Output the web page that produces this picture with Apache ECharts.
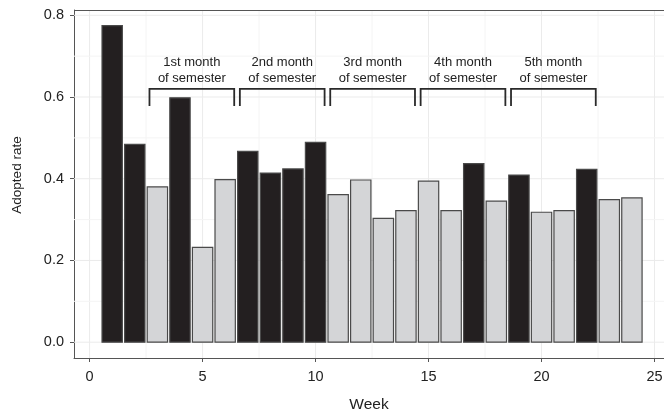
<!DOCTYPE html>
<html>
<head>
<meta charset="utf-8">
<script src="https://cdn.jsdelivr.net/npm/echarts@6/dist/echarts.min.js"></script>
<style>html,body{margin:0;padding:0;background:#fff}#c{width:664px;height:410px}</style>
</head>
<body>
<div id="c"></div>
<script>
const weeks = [1,2,3,4,5,6,7,8,9,10,11,12,13,14,15,16,17,18,19,20,21,22,23,24];
const adoptedRate = [0.775,0.484,0.380,0.598,0.232,0.398,0.467,0.414,0.424,0.489,0.361,0.397,0.303,0.322,0.394,0.322,0.437,0.345,0.409,0.318,0.322,0.423,0.349,0.353];
const barGroup = ['dark','dark','light','dark','light','light','dark','dark','dark','dark','light','light','light','light','light','light','dark','light','dark','light','light','dark','light','light'];
const monthLabels = ['1st month','2nd month','3rd month','4th month','5th month'];
const monthStart = [2.65,6.65,10.65,14.65,18.65];
const monthEnd = [6.4,10.4,14.4,18.4,22.4];
const xTicks = [0,5,10,15,20,25];
const yTicks = [0,0.2,0.4,0.6,0.8];
const xGrid = [0,2.5,5,7.5,10,12.5,15,17.5,20,22.5,25];
const yGrid = [0,0.1,0.2,0.3,0.4,0.5,0.6,0.7,0.8];

const FONT = '"Liberation Sans", Arial, sans-serif';
const colors = {dark:'#231f20', light:'#d4d5d7'};

const barData = weeks.map((w,i)=>[w, adoptedRate[i], barGroup[i]]);
const bracketData = monthLabels.map((m,i)=>[monthStart[i], monthEnd[i], m]);

const chart = echarts.init(document.getElementById('c'));
chart.setOption({
  animation:false,
  backgroundColor:'#fff',
  grid:{left:74,right:0,top:10,bottom:52,show:false,outerBoundsMode:'none',containLabel:false},
  xAxis:{
    type:'value', min:-0.69, max:25.42,
    name:'Week', nameLocation:'middle', nameGap:39,
    nameTextStyle:{fontFamily:FONT,fontSize:15.5,color:'#222'},
    axisLine:{show:true,onZero:false,lineStyle:{color:'#555',width:1}},
    axisTick:{show:true,length:4,customValues:xTicks,lineStyle:{color:'#555'}},
    axisLabel:{customValues:xTicks,fontFamily:FONT,fontSize:14.5,color:'#222',margin:11},
    splitLine:{show:false}
  },
  yAxis:{
    type:'value', min:-0.0387, max:0.813,
    axisLine:{show:true,onZero:false,lineStyle:{color:'#555',width:1}},
    axisTick:{show:true,length:4,customValues:yTicks,lineStyle:{color:'#555'}},
    axisLabel:{customValues:yTicks,fontFamily:FONT,fontSize:14.5,color:'#222',margin:10,
      formatter:v=>v.toFixed(1)},
    splitLine:{show:false}
  },
  graphic:[{
    type:'text', x:17, y:175, rotation:Math.PI/2,
    style:{text:'Adopted rate',align:'center',verticalAlign:'middle',fontSize:13.5,fontFamily:FONT,fill:'#222'}
  }],
  series:[
    {
      type:'custom', silent:true, z:1,
      data:[0],
      renderItem:(params, api)=>{
        const children=[];
        const cs = params.coordSys;
        xGrid.forEach(x=>{
          const p = api.coord([x,0]);
          children.push({type:'line',shape:{x1:p[0],y1:cs.y,x2:p[0],y2:cs.y+cs.height},
            style:{stroke:(x%5===0)?'#ebebeb':'#f4f4f4',lineWidth:1}});
        });
        yGrid.forEach((y,i)=>{
          const p = api.coord([0,y]);
          children.push({type:'line',shape:{x1:cs.x,y1:p[1],x2:cs.x+cs.width,y2:p[1]},
            style:{stroke:(i%2===0)?'#ebebeb':'#f4f4f4',lineWidth:1}});
        });
        children.push({type:'line',shape:{x1:cs.x,y1:cs.y+0.5,x2:cs.x+cs.width,y2:cs.y+0.5},
          style:{stroke:'#555',lineWidth:1}});
        return {type:'group',children};
      }
    },
    {
      type:'custom', z:3,
      data:barData,
      encode:{x:0,y:1},
      renderItem:(params, api)=>{
        const x = api.value(0), y = api.value(1);
        const g = barGroup[params.dataIndex];
        const p1 = api.coord([x-0.45, y]);
        const p2 = api.coord([x+0.45, 0]);
        return {type:'rect',shape:{x:p1[0],y:p1[1],width:p2[0]-p1[0],height:p2[1]-p1[1]},
          style:{fill:colors[g],stroke:'#4a4a4a',lineWidth:1.2}};
      }
    },
    {
      type:'custom', z:4,
      data:bracketData,
      renderItem:(params, api)=>{
        const s = api.value(0), e = api.value(1);
        const label = monthLabels[params.dataIndex];
        const a = api.coord([s,0.620]);
        const b = api.coord([e,0.620]);
        const bot = api.coord([s,0.578])[1];
        const mid = (a[0]+b[0])/2;
        const t1 = api.coord([0,0.685])[1];
        const t2 = api.coord([0,0.645])[1];
        return {type:'group',children:[
          {type:'polyline',shape:{points:[[a[0],bot],[a[0],a[1]],[b[0],b[1]],[b[0],bot]]},
            style:{stroke:'#2a2a2a',lineWidth:1.8,fill:null}},
          {type:'text',style:{x:mid,y:t1,text:label,align:'center',verticalAlign:'middle',
            fontSize:13,fontFamily:FONT,fill:'#222'}},
          {type:'text',style:{x:mid,y:t2,text:'of semester',align:'center',verticalAlign:'middle',
            fontSize:13,fontFamily:FONT,fill:'#222'}}
        ]};
      }
    }
  ]
});
</script>
</body>
</html>
